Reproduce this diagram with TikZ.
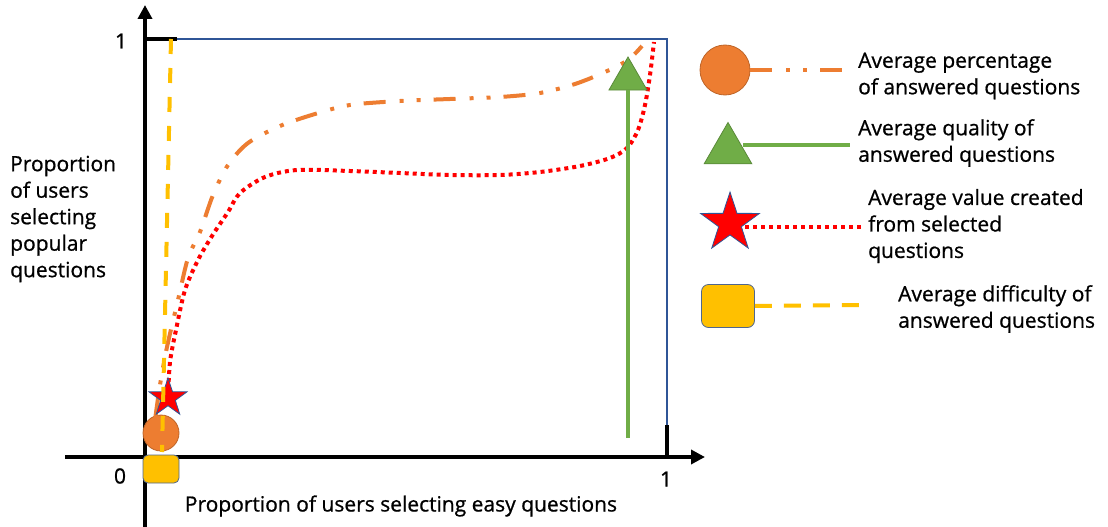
\documentclass[tikz,border=0pt]{standalone}
\usepackage{fontspec}
\setmainfont{Open Sans}[FakeBold=0.8]
\usetikzlibrary{arrows.meta,shapes.geometric}
\definecolor{pctorange}{HTML}{ED7D31}
\definecolor{qualgreen}{HTML}{70AD47}
\definecolor{diffyellow}{HTML}{FFC000}
\definecolor{boxblue}{HTML}{2F5597}
\tikzset{
  axisline/.style={line width=4.5pt, -{Triangle[length=14pt,width=14pt]}},
  boxline/.style={line width=2.8pt, color=boxblue},
  pctline/.style={line width=4pt, color=pctorange, dash pattern=on 22pt off 14pt on 4pt off 13pt on 4pt off 13pt},
  qualline/.style={line width=4pt, color=qualgreen},
  valline/.style={line width=4pt, color=red, dash pattern=on 4pt off 4pt},
  diffline/.style={line width=4pt, color=diffyellow, dash pattern=on 15pt off 14pt},
  pctmark/.style={circle, fill=pctorange, draw=pctorange!80!black, line width=0.8pt, inner sep=0pt},
  qualmark/.style={regular polygon, regular polygon sides=3, fill=qualgreen, draw=qualgreen!80!black, line width=0.8pt, inner sep=0pt},
  valmark/.style={star, star points=5, star point ratio=2.6, fill=red, draw=boxblue, line width=0.8pt, inner sep=0pt},
  diffmark/.style={rectangle, rounded corners=5pt, fill=diffyellow, draw=boxblue!60!gray, line width=0.8pt, inner sep=0pt},
  legtext/.style={anchor=west, align=left, inner sep=0pt, font=\fontsize{21}{26.5}\selectfont},
  ticklab/.style={font=\fontsize{21}{24}\selectfont, inner sep=0pt}
}
\begin{document}
\begin{tikzpicture}[x=1pt,y=-1pt]
  \useasboundingbox (0,0) rectangle (1108,527);
  % axes and unit box
  \coordinate (tl) at (145,39); \coordinate (tlb) at (177,39); \coordinate (tr) at (667,39);
  \coordinate (brb) at (667,425); \coordinate (br) at (667,457);
  \coordinate (xstart) at (65,457); \coordinate (xend) at (705,457);
  \coordinate (ystart) at (145,527); \coordinate (yend) at (145,5);
  \draw[boxline] (tlb) -- (tr) -- (brb);
  \draw[line width=4.5pt] (tl) -- (tlb); \draw[line width=4.5pt] (brb) -- (br);
  \draw[axisline] (xstart) -- (xend); \draw[axisline] (ystart) -- (yend);
  \node[ticklab] (yone) at (121,41) {1};
  \node[ticklab] (zero) at (120,476) {0};
  \node[ticklab] (xone) at (666,479) {1};
  \node[legtext] (ylab) at (10,219) {Proportion\\of users\\selecting\\popular\\questions};
  \node[legtext, anchor=center] (xlab) at (401,506) {Proportion of users selecting easy questions};

  % curves in the unit box
  \node[diffmark, minimum width=36pt, minimum height=28pt] (diffdot) at (161,469) {};
  \node[pctmark, minimum size=36pt] (pctdot) at (161,433) {};
  \draw[pctline] plot[smooth] coordinates {(155,420) (160,385) (167,347) (178,300) (188,258) (200,232) (213,195) (228,165) (248,143) (280,126) (315,114) (350,105) (400,101) (450,99) (500,97) (540,93) (575,84) (605,72) (628,60) (642,46)};
  \draw[valline] plot[smooth] coordinates {(168,398) (170,362) (176,330) (185,290) (198,260) (212,236) (228,212) (240,193) (265,177) (297,170) (350,171) (400,173) (450,175) (500,175) (540,172) (580,166) (610,158) (627,148) (638,130) (645,105) (650,75) (654,42)};
  \node[qualmark, minimum size=44pt] (qualtri) at (628,79) {};
  \coordinate (qualbot) at (628,438);
  \draw[qualline] (qualbot) -- (qualtri.south);
  \node[valmark, minimum size=40pt] (valstar) at (168,398) {};
  \coordinate (difftop) at (171,39); \coordinate (diffbot) at (162,452);
  \draw[diffline] (difftop) -- (diffbot);

  % legend
  \node[pctmark, minimum size=50pt] (pctleg) at (725,70) {};
  \node[legtext] (pcttext) at (858,76) {Average percentage\\of answered questions};
  \coordinate (pctend) at (843,70);
  \draw[pctline] (pctleg.east) -- (pctend);

  \node[qualmark, minimum size=55pt] (qualleg) at (728,150) {};
  \node[legtext] (qualtext) at (858,143) {Average quality of\\answered questions};
  \coordinate (qualend) at (850,145);
  \draw[qualline] (743,145) -- (qualend);

  \coordinate (valend) at (861,227);
  \draw[valline] (745,227) -- (valend);
  \node[valmark, minimum size=62pt] (valleg) at (730,223) {};
  \node[legtext] (valtext) at (868,226) {Average value created\\from selected\\questions};

  \node[diffmark, minimum width=53pt, minimum height=43pt, rounded corners=7pt] (diffleg) at (728,306) {};
  \node[legtext] (difftext) at (898,309) {Average difficulty of\\answered questions};
  \coordinate (diffend) at (861,305);
  \draw[diffline, dash pattern=on 17pt off 12pt] (diffleg.east) -- (diffend);
\end{tikzpicture}
\end{document}
